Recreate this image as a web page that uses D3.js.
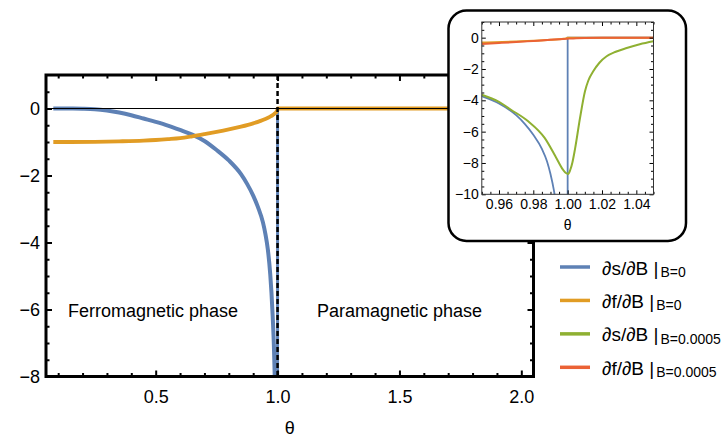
<!DOCTYPE html>
<html>
<head>
<meta charset="utf-8">
<script src="https://cdn.jsdelivr.net/npm/d3@7"></script>
<style>
  html, body { margin: 0; padding: 0; background: #fff; }
  svg { display: block; font-family: "Liberation Sans", Arial, sans-serif; }
</style>
</head>
<body>
<svg id="chart" width="724" height="439"></svg>
<script>
// ---------------- data ----------------
// dS/dB at B=0  [theta, value]
const dsdB_B0 = [
  [0.08,0],[0.12,0],[0.16,0],[0.2,-0.005],[0.25,-0.02],[0.3,-0.06],[0.35,-0.12],
  [0.4,-0.2],[0.45,-0.3],[0.5,-0.4],[0.55,-0.51],[0.6,-0.64],[0.65,-0.78],
  [0.7,-0.97],[0.75,-1.24],[0.8,-1.55],[0.85,-1.96],[0.875,-2.25],[0.9,-2.6],
  [0.92,-2.95],[0.94,-3.4],[0.95,-3.74],[0.96,-4.2],[0.97,-4.95],[0.975,-5.5],
  [0.98,-6.2],[0.985,-7.1],[0.988,-7.9],[0.99,-8.7],[0.992,-9.75],[0.994,-11.3],
  [0.996,-13.9],[0.998,-19.8],[0.999,-28],[1.0,-40],
  [1.0,0],[1.05,0],[2.05,0]
];
// dF/dB at B=0
const dfdB_B0 = [
  [0.08,-1.0],[0.15,-1.0],[0.25,-0.995],[0.35,-0.98],[0.45,-0.958],[0.5,-0.94],
  [0.55,-0.915],[0.6,-0.885],[0.65,-0.83],[0.7,-0.767],[0.75,-0.7],[0.8,-0.626],
  [0.85,-0.542],[0.9,-0.443],[0.93,-0.37],[0.95,-0.313],[0.97,-0.242],[0.98,-0.198],
  [0.99,-0.14],[0.995,-0.099],[0.9975,-0.07],[0.999,-0.044],[1.0,0],[2.05,0]
];
// dS/dB at B=0.0005 (inset only)
const dsdB_B5 = [
  [0.95,-3.64],[0.96,-4.1],[0.967,-4.6],[0.977,-5.34],[0.9866,-6.4],[0.9934,-7.68],
  [0.9973,-8.43],[0.999,-8.64],[1.0003,-8.7],[1.0015,-8.45],[1.0028,-7.95],
  [1.0043,-7.1],[1.0072,-5.13],[1.0101,-3.42],[1.012,-2.75],[1.0149,-2.15],
  [1.0185,-1.6],[1.0227,-1.19],[1.028,-0.9],[1.0344,-0.66],[1.042,-0.42],[1.05,-0.23]
];
// dF/dB at B=0.0005 (inset only)
const dfdB_B5 = [
  [0.95,-0.40],[0.96,-0.34],[0.97,-0.28],[0.98,-0.21],[0.99,-0.14],[0.995,-0.1],
  [1.0,-0.065],[1.005,-0.035],[1.01,-0.02],[1.02,-0.01],[1.05,-0.005]
];

const seriesColors = ["#5E81B5", "#E19C24", "#8FB032", "#EB6235"];
const legendMain = ["∂s/∂B", "∂f/∂B", "∂s/∂B", "∂f/∂B"];
const legendSub  = ["B=0", "B=0", "B=0.0005", "B=0.0005"];

const mainXTicks = [0.5, 1.0, 1.5, 2.0];
const mainXMinor = [0.1,0.2,0.3,0.4,0.6,0.7,0.8,0.9,1.1,1.2,1.3,1.4,1.6,1.7,1.8,1.9];
const mainYTicks = [0, -2, -4, -6, -8];
const mainYMinor = [0.5,-0.5,-1,-1.5,-2.5,-3,-3.5,-4.5,-5,-5.5,-6.5,-7,-7.5];
const insetXTicks = [0.96, 0.98, 1.00, 1.02, 1.04];
const insetYTicks = [0, -2, -4, -6, -8, -10];

const phaseLabels = ["Ferromagnetic phase", "Paramagnetic phase"];
const criticalTheta = 1.0;

// ---------------- layout ----------------
const svg = d3.select("#chart");
const M = { left: 46, right: 533.5, top: 75, bottom: 376.5 };
const x = d3.scaleLinear().domain([0.05, 2.05]).range([M.left, M.right]);
const y = d3.scaleLinear().domain([-8, 1]).range([M.bottom, M.top]);

const defs = svg.append("defs");
defs.append("clipPath").attr("id", "clipMain").append("rect")
  .attr("x", M.left).attr("y", M.top).attr("width", M.right - M.left).attr("height", M.bottom - M.top);

function styleAxis(g, fontSize, sw) {
  g.select(".domain").remove();
  g.selectAll(".tick line").attr("stroke", "#000").attr("stroke-width", sw);
  g.selectAll(".tick text").attr("fill", "#000").attr("font-size", fontSize)
    .attr("font-family", '"Liberation Sans", Arial, sans-serif');
  g.attr("font-family", null).attr("font-size", null);
}

// main curves
const gMain = svg.append("g").attr("clip-path", "url(#clipMain)");
const lineMonoMain = d3.line().x(d => x(d[0])).y(d => y(d[1])).curve(d3.curveMonotoneX);
const lineLinMain = d3.line().x(d => x(d[0])).y(d => y(d[1]));

const blueLeft = dsdB_B0.filter(d => d[0] < criticalTheta || (d[0] === criticalTheta && d[1] < -1));
const blueRight = dsdB_B0.filter(d => d[0] >= criticalTheta);

gMain.append("path").datum(blueLeft).attr("d", lineMonoMain)
  .attr("fill", "none").attr("stroke", seriesColors[0]).attr("stroke-width", 4);
gMain.append("path").datum(blueRight).attr("d", lineLinMain)
  .attr("fill", "none").attr("stroke", seriesColors[0]).attr("stroke-width", 3);
gMain.append("path").datum(dfdB_B0).attr("d", lineMonoMain)
  .attr("fill", "none").attr("stroke", seriesColors[1]).attr("stroke-width", 3.8);

// axis line at 0
gMain.append("line").attr("x1", M.left).attr("x2", M.right).attr("y1", y(0)).attr("y2", y(0))
  .attr("stroke", "#000").attr("stroke-width", 1);

// dashed critical line
gMain.append("line").attr("x1", x(criticalTheta)).attr("x2", x(criticalTheta))
  .attr("y1", M.top).attr("y2", M.bottom)
  .attr("stroke", "#000").attr("stroke-width", 2.5).attr("stroke-dasharray", "5,3");

// main axes
svg.append("g").attr("transform", `translate(0,${M.bottom})`)
  .call(d3.axisBottom(x).tickValues(mainXTicks).tickSize(-6).tickPadding(14).tickFormat(d3.format(".1f")))
  .call(g => styleAxis(g, 18, 2));
svg.append("g").attr("transform", `translate(0,${M.bottom})`)
  .call(d3.axisBottom(x).tickValues(mainXMinor).tickSize(-3.5).tickFormat(""))
  .call(g => styleAxis(g, 18, 2));
svg.append("g").attr("transform", `translate(0,${M.top})`)
  .call(d3.axisTop(x).tickValues(mainXTicks).tickSize(-6).tickFormat(""))
  .call(g => styleAxis(g, 18, 2));
svg.append("g").attr("transform", `translate(0,${M.top})`)
  .call(d3.axisTop(x).tickValues(mainXMinor).tickSize(-3.5).tickFormat(""))
  .call(g => styleAxis(g, 18, 2));
svg.append("g").attr("transform", `translate(${M.left},0)`)
  .call(d3.axisLeft(y).tickValues(mainYTicks).tickSize(-6).tickPadding(6).tickFormat(d3.format("d")))
  .call(g => styleAxis(g, 18, 2));
svg.append("g").attr("transform", `translate(${M.left},0)`)
  .call(d3.axisLeft(y).tickValues(mainYMinor).tickSize(-3.5).tickFormat(""))
  .call(g => styleAxis(g, 18, 2));
svg.append("g").attr("transform", `translate(${M.right},0)`)
  .call(d3.axisRight(y).tickValues(mainYTicks).tickSize(-6).tickFormat(""))
  .call(g => styleAxis(g, 18, 2));
svg.append("g").attr("transform", `translate(${M.right},0)`)
  .call(d3.axisRight(y).tickValues(mainYMinor).tickSize(-3.5).tickFormat(""))
  .call(g => styleAxis(g, 18, 2));

// main frame
svg.append("rect").attr("x", M.left).attr("y", M.top)
  .attr("width", M.right - M.left).attr("height", M.bottom - M.top)
  .attr("fill", "none").attr("stroke", "#000").attr("stroke-width", 3);

// axis title
svg.append("text").attr("x", (M.left + M.right) / 2).attr("y", 434)
  .attr("text-anchor", "middle").attr("font-size", 18).text("θ");

// phase labels
svg.append("text").attr("x", 68).attr("y", 317).attr("font-size", 18).text(phaseLabels[0]);
svg.append("text").attr("x", 317).attr("y", 317).attr("font-size", 18).text(phaseLabels[1]);

// ---------------- inset ----------------
svg.append("rect").attr("x", 448.5).attr("y", 10.5).attr("width", 237.5).attr("height", 230.5)
  .attr("rx", 18).attr("ry", 18)
  .attr("fill", "#fff").attr("stroke", "#000").attr("stroke-width", 2.5);

const I = { left: 481.8, right: 653.5, top: 22, bottom: 194.3 };
const xi = d3.scaleLinear().domain([0.95, 1.05]).range([I.left, I.right]);
const yi = d3.scaleLinear().domain([-10, 1]).range([I.bottom, I.top]);

defs.append("clipPath").attr("id", "clipInset").append("rect")
  .attr("x", I.left).attr("y", I.top).attr("width", I.right - I.left).attr("height", I.bottom - I.top);

const gIn = svg.append("g").attr("clip-path", "url(#clipInset)");
const lineMonoIn = d3.line().x(d => xi(d[0])).y(d => yi(d[1])).curve(d3.curveMonotoneX);
const lineLinIn = d3.line().x(d => xi(d[0])).y(d => yi(d[1]));

gIn.append("path").datum(blueLeft).attr("d", lineMonoIn)
  .attr("fill", "none").attr("stroke", seriesColors[0]).attr("stroke-width", 1.8);
gIn.append("path").datum(blueRight).attr("d", lineLinIn)
  .attr("fill", "none").attr("stroke", seriesColors[0]).attr("stroke-width", 1.8);
gIn.append("path").datum(dfdB_B0).attr("d", lineMonoIn)
  .attr("fill", "none").attr("stroke", seriesColors[1]).attr("stroke-width", 2);
gIn.append("path").datum(dsdB_B5).attr("d", lineMonoIn)
  .attr("fill", "none").attr("stroke", seriesColors[2]).attr("stroke-width", 2);
gIn.append("path").datum(dfdB_B5).attr("d", lineMonoIn)
  .attr("fill", "none").attr("stroke", seriesColors[3]).attr("stroke-width", 2);

const insetXMinor = d3.range(0.95, 1.0501, 0.005).filter(v => !insetXTicks.some(t => Math.abs(t - v) < 1e-6));
const insetYMinor = d3.range(-10, 1.001, 0.5).filter(v => !insetYTicks.includes(v));

svg.append("g").attr("transform", `translate(0,${I.bottom})`)
  .call(d3.axisBottom(xi).tickValues(insetXTicks).tickSize(-4).tickPadding(5).tickFormat(d3.format(".2f")))
  .call(g => styleAxis(g, 14, 1));
svg.append("g").attr("transform", `translate(0,${I.bottom})`)
  .call(d3.axisBottom(xi).tickValues(insetXMinor).tickSize(-2.5).tickFormat(""))
  .call(g => styleAxis(g, 14, 1));
svg.append("g").attr("transform", `translate(0,${I.top})`)
  .call(d3.axisTop(xi).tickValues(insetXTicks).tickSize(-4).tickFormat(""))
  .call(g => styleAxis(g, 14, 1));
svg.append("g").attr("transform", `translate(0,${I.top})`)
  .call(d3.axisTop(xi).tickValues(insetXMinor).tickSize(-2.5).tickFormat(""))
  .call(g => styleAxis(g, 14, 1));
svg.append("g").attr("transform", `translate(${I.left},0)`)
  .call(d3.axisLeft(yi).tickValues(insetYTicks).tickSize(-4).tickPadding(3).tickFormat(d3.format("d")))
  .call(g => styleAxis(g, 14, 1));
svg.append("g").attr("transform", `translate(${I.left},0)`)
  .call(d3.axisLeft(yi).tickValues(insetYMinor).tickSize(-2.5).tickFormat(""))
  .call(g => styleAxis(g, 14, 1));
svg.append("g").attr("transform", `translate(${I.right},0)`)
  .call(d3.axisRight(yi).tickValues(insetYTicks).tickSize(-4).tickFormat(""))
  .call(g => styleAxis(g, 14, 1));
svg.append("g").attr("transform", `translate(${I.right},0)`)
  .call(d3.axisRight(yi).tickValues(insetYMinor).tickSize(-2.5).tickFormat(""))
  .call(g => styleAxis(g, 14, 1));

svg.append("rect").attr("x", I.left).attr("y", I.top)
  .attr("width", I.right - I.left).attr("height", I.bottom - I.top)
  .attr("fill", "none").attr("stroke", "#333").attr("stroke-width", 1);

svg.append("text").attr("x", (I.left + I.right) / 2).attr("y", 230)
  .attr("text-anchor", "middle").attr("font-size", 14).text("θ");

// ---------------- legend ----------------
const legY = d3.scalePoint().domain(d3.range(legendMain.length)).range([267, 367.3]);
const leg = svg.append("g");
legendMain.forEach((lab, i) => {
  const yy = legY(i);
  leg.append("line").attr("x1", 560).attr("x2", 590).attr("y1", yy).attr("y2", yy)
    .attr("stroke", seriesColors[i]).attr("stroke-width", 3.5);
  const t = leg.append("text").attr("x", 602).attr("y", yy + 7.5).attr("font-size", 19);
  t.append("tspan").text(lab + " |");
  t.append("tspan").attr("font-size", 14).attr("dx", 2).attr("dy", 2.5).text(legendSub[i]);
});
</script>
</body>
</html>
